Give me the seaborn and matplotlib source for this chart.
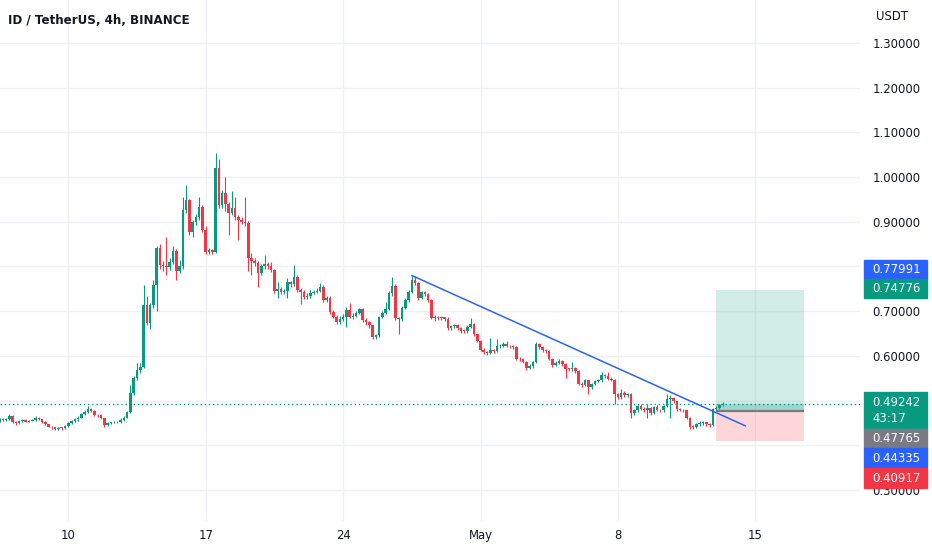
import pandas as pd
import matplotlib
matplotlib.use("Agg")
import matplotlib.pyplot as plt
import matplotlib.dates as mdates
from matplotlib.patches import Rectangle
import seaborn as sns

# 4h candles, ID / USDT
start_time = "2023-04-06 12:00"
first_open = 0.455
closes = [
    0.458, 0.456, 0.459, 0.466, 0.452, 0.449, 0.455, 0.456, 0.453, 0.455,
    0.456, 0.462, 0.458, 0.452, 0.447, 0.442, 0.440, 0.437, 0.439, 0.438,
    0.443, 0.449, 0.455, 0.458, 0.462, 0.470, 0.475, 0.481, 0.477, 0.468,
    0.467, 0.460, 0.446, 0.450, 0.451, 0.452, 0.451, 0.456, 0.462, 0.474,
    0.517, 0.550, 0.568, 0.575, 0.714, 0.674, 0.714, 0.759, 0.841, 0.803,
    0.800, 0.798, 0.810, 0.835, 0.790, 0.800, 0.927, 0.949, 0.877, 0.900,
    0.910, 0.933, 0.882, 0.832, 0.836, 0.833, 1.020, 0.937, 0.965, 0.940,
    0.920, 0.930, 0.910, 0.905, 0.900, 0.898, 0.819, 0.813, 0.808, 0.785,
    0.800, 0.805, 0.800, 0.792, 0.745, 0.750, 0.742, 0.745, 0.765, 0.760,
    0.777, 0.748, 0.744, 0.732, 0.735, 0.741, 0.744, 0.746, 0.755, 0.725,
    0.730, 0.698, 0.688, 0.675, 0.683, 0.688, 0.703, 0.687, 0.690, 0.697,
    0.705, 0.680, 0.675, 0.668, 0.642, 0.646, 0.687, 0.697, 0.705, 0.740,
    0.757, 0.685, 0.682, 0.708, 0.725, 0.743, 0.770, 0.763, 0.730, 0.742,
    0.738, 0.725, 0.685, 0.688, 0.684, 0.686, 0.683, 0.662, 0.667, 0.669,
    0.662, 0.656, 0.655, 0.665, 0.672, 0.648, 0.634, 0.614, 0.608, 0.607,
    0.613, 0.610, 0.621, 0.622, 0.626, 0.623, 0.621, 0.620, 0.594, 0.592,
    0.587, 0.574, 0.577, 0.586, 0.626, 0.620, 0.613, 0.611, 0.594, 0.580,
    0.585, 0.588, 0.581, 0.571, 0.570, 0.573, 0.566, 0.538, 0.535, 0.545,
    0.530, 0.537, 0.544, 0.545, 0.557, 0.554, 0.549, 0.547, 0.515, 0.507,
    0.518, 0.512, 0.514, 0.472, 0.478, 0.487, 0.482, 0.479, 0.483, 0.472,
    0.485, 0.479, 0.478, 0.487, 0.503, 0.505, 0.498, 0.481, 0.479, 0.478,
    0.462, 0.442, 0.441, 0.447, 0.449, 0.451, 0.447, 0.446, 0.481, 0.484,
    0.490, 0.49242,
]
highs = [
    0.461, 0.460, 0.462, 0.469, 0.467, 0.454, 0.457, 0.458, 0.458, 0.457,
    0.459, 0.465, 0.463, 0.459, 0.454, 0.448, 0.444, 0.442, 0.442, 0.441,
    0.445, 0.451, 0.457, 0.462, 0.466, 0.472, 0.479, 0.488, 0.483, 0.478,
    0.471, 0.469, 0.461, 0.452, 0.453, 0.455, 0.454, 0.460, 0.465, 0.477,
    0.535, 0.556, 0.584, 0.584, 0.759, 0.735, 0.718, 0.770, 0.845, 0.850,
    0.812, 0.865, 0.818, 0.845, 0.840, 0.815, 0.955, 0.982, 0.952, 0.905,
    0.918, 0.955, 0.938, 0.890, 0.842, 0.840, 1.054, 1.040, 0.972, 1.000,
    0.945, 0.970, 0.955, 0.915, 0.910, 0.955, 0.902, 0.830, 0.818, 0.812,
    0.805, 0.825, 0.810, 0.810, 0.795, 0.765, 0.754, 0.750, 0.775, 0.768,
    0.803, 0.780, 0.752, 0.748, 0.740, 0.748, 0.748, 0.752, 0.762, 0.758,
    0.735, 0.733, 0.702, 0.692, 0.690, 0.693, 0.710, 0.718, 0.695, 0.700,
    0.708, 0.707, 0.684, 0.678, 0.670, 0.650, 0.690, 0.700, 0.720, 0.745,
    0.776, 0.760, 0.688, 0.712, 0.730, 0.748, 0.780, 0.778, 0.766, 0.746,
    0.745, 0.741, 0.728, 0.692, 0.690, 0.689, 0.688, 0.686, 0.670, 0.672,
    0.671, 0.664, 0.660, 0.668, 0.685, 0.674, 0.650, 0.636, 0.617, 0.611,
    0.640, 0.615, 0.637, 0.626, 0.630, 0.634, 0.625, 0.624, 0.622, 0.597,
    0.595, 0.589, 0.581, 0.589, 0.632, 0.629, 0.623, 0.616, 0.613, 0.596,
    0.588, 0.592, 0.590, 0.583, 0.574, 0.587, 0.575, 0.568, 0.542, 0.548,
    0.547, 0.540, 0.547, 0.549, 0.563, 0.560, 0.564, 0.552, 0.549, 0.518,
    0.526, 0.521, 0.518, 0.516, 0.481, 0.490, 0.492, 0.485, 0.492, 0.485,
    0.488, 0.490, 0.482, 0.490, 0.515, 0.513, 0.508, 0.500, 0.484, 0.482,
    0.480, 0.464, 0.446, 0.450, 0.455, 0.454, 0.453, 0.450, 0.484, 0.488,
    0.493, 0.496,
]
lows = [
    0.453, 0.454, 0.455, 0.457, 0.449, 0.446, 0.448, 0.453, 0.451, 0.452,
    0.454, 0.455, 0.456, 0.450, 0.445, 0.440, 0.436, 0.434, 0.435, 0.435,
    0.437, 0.441, 0.447, 0.452, 0.455, 0.460, 0.468, 0.473, 0.474, 0.466,
    0.464, 0.458, 0.442, 0.444, 0.448, 0.449, 0.449, 0.450, 0.454, 0.460,
    0.472, 0.512, 0.545, 0.562, 0.572, 0.668, 0.660, 0.708, 0.700, 0.795,
    0.790, 0.780, 0.793, 0.805, 0.770, 0.785, 0.795, 0.920, 0.870, 0.865,
    0.892, 0.905, 0.878, 0.828, 0.828, 0.828, 0.830, 0.930, 0.930, 0.925,
    0.870, 0.915, 0.905, 0.860, 0.895, 0.890, 0.790, 0.780, 0.800, 0.755,
    0.780, 0.795, 0.795, 0.788, 0.740, 0.730, 0.738, 0.738, 0.730, 0.755,
    0.756, 0.744, 0.715, 0.728, 0.728, 0.730, 0.738, 0.740, 0.742, 0.720,
    0.720, 0.694, 0.685, 0.672, 0.672, 0.678, 0.665, 0.684, 0.683, 0.686,
    0.694, 0.676, 0.670, 0.662, 0.638, 0.638, 0.643, 0.684, 0.694, 0.702,
    0.735, 0.680, 0.649, 0.679, 0.705, 0.720, 0.740, 0.758, 0.726, 0.727,
    0.733, 0.720, 0.682, 0.678, 0.680, 0.681, 0.679, 0.658, 0.659, 0.663,
    0.658, 0.652, 0.651, 0.652, 0.662, 0.644, 0.630, 0.610, 0.604, 0.603,
    0.605, 0.606, 0.608, 0.617, 0.619, 0.620, 0.618, 0.616, 0.590, 0.588,
    0.583, 0.568, 0.570, 0.574, 0.584, 0.616, 0.609, 0.607, 0.590, 0.576,
    0.577, 0.582, 0.577, 0.550, 0.566, 0.567, 0.562, 0.534, 0.530, 0.532,
    0.515, 0.527, 0.534, 0.541, 0.542, 0.551, 0.546, 0.543, 0.492, 0.503,
    0.504, 0.509, 0.508, 0.462, 0.468, 0.475, 0.479, 0.475, 0.460, 0.468,
    0.470, 0.476, 0.474, 0.475, 0.485, 0.461, 0.494, 0.477, 0.476, 0.474,
    0.458, 0.437, 0.437, 0.439, 0.444, 0.446, 0.444, 0.442, 0.444, 0.478,
    0.481, 0.487,
]

# drawings on the chart
trend_start = ("2023-04-27 12:00", 0.77991)
trend_end = ("2023-05-14 12:00", 0.44335)
box_start, box_end = "2023-05-13 00:00", "2023-05-17 12:00"
target_price = 0.74776
entry_price = 0.47765
stop_price = 0.40917
last_price = 0.49242
countdown = "43:17"

price_ticks = [0.3, 0.4, 0.5, 0.6, 0.7, 0.8, 0.9, 1.0, 1.1, 1.2, 1.3]
hidden_ticks = [0.4, 0.5, 0.8]  # covered by the price tags
date_ticks = ["2023-04-10", "2023-04-17", "2023-04-24", "2023-05-01", "2023-05-08", "2023-05-15"]
date_labels = ["10", "17", "24", "May", "8", "15"]

GREEN, RED, BLUE, GREY = "#089981", "#F23645", "#2962FF", "#787B86"
TXT = "#131722"

df = pd.DataFrame({
    "time": pd.date_range(start_time, periods=len(closes), freq="4h"),
    "close": closes, "high": highs, "low": lows,
})
df["open"] = [first_open] + closes[:-1]
df["up"] = df["close"] >= df["open"]
df["x"] = mdates.date2num(df["time"])

sns.set_theme(style="white", rc={"axes.edgecolor": "white"})
plt.rcParams["font.family"] = ["DejaVu Sans"]

W, H = 932, 550
fig = plt.figure(figsize=(W / 100, H / 100), dpi=100)
ax = fig.add_axes([0, 29 / H, 860 / W, 521 / H])

for x in mdates.date2num(pd.to_datetime(date_ticks)):
    ax.axvline(x, color="#EEF0F5", lw=1, zorder=0)
for p in price_ticks:
    ax.axhline(p, color="#EEF0F5", lw=1, zorder=0)

colors = [GREEN if u else RED for u in df["up"]]
cw = 4 / 24 * 0.78
ax.vlines(df["x"], df["low"], df["high"], colors=colors, lw=0.8, zorder=2)
body = (df["close"] - df["open"]).abs().clip(lower=0.0018)
ax.bar(df["x"], body, bottom=df[["open", "close"]].min(axis=1), width=cw,
       color=colors, linewidth=0, zorder=3)

# long position tool
bx = mdates.date2num(pd.to_datetime([box_start, box_end]))
ax.fill_between(bx, entry_price, target_price, color=GREEN, alpha=0.18, lw=0, zorder=1)
ax.fill_between(bx, stop_price, entry_price, color=RED, alpha=0.2, lw=0, zorder=1)
ax.fill_between(bx, entry_price, last_price, color=GREEN, alpha=0.25, lw=0, zorder=1)
ax.hlines(entry_price, bx[0], bx[1], color=GREY, lw=1.6, zorder=4)

tx = mdates.date2num(pd.to_datetime([trend_start[0], trend_end[0]]))
ax.plot(tx, [trend_start[1], trend_end[1]], color=BLUE, lw=1.1, zorder=5)

ax.axhline(last_price, color=GREEN, lw=1, ls=(0, (1, 2)), zorder=4)

ax.set_xlim(mdates.date2num(pd.Timestamp("2023-04-06 12:30")),
            mdates.date2num(pd.Timestamp("2023-05-20 08:00")))
ax.set_ylim(0.2306, 1.3962)
ax.yaxis.tick_right()
ax.set_yticks(price_ticks)
ax.set_yticklabels(["" if p in hidden_ticks else f"{p:.5f}" for p in price_ticks])
ax.set_xticks(mdates.date2num(pd.to_datetime(date_ticks)))
ax.set_xticklabels(date_labels)
ax.tick_params(axis="y", length=0, pad=9, labelsize=8.4, labelcolor=TXT)
ax.tick_params(axis="x", length=0, pad=6, labelsize=8.4, labelcolor=TXT)
for lab in ax.get_yticklabels():
    lab.set_horizontalalignment("left")
for s in ax.spines.values():
    s.set_visible(False)
ax.grid(False)

fig.text(8 / W, 1 - 20 / H, "ID / TetherUS, 4h, BINANCE", fontsize=8.6,
         fontweight="semibold", color=TXT, va="center")
fig.text(876 / W, 1 - 16 / H, "USDT", fontsize=8.4, color=TXT, va="center")

# price scale labels (pixel boxes on the right)
tags = [
    ("0.77991", BLUE, 260, 279),
    ("0.74776", GREEN, 279, 298),
    (f"{last_price:.5f}\n{countdown}", GREEN, 392, 429),
    (f"{entry_price:.5f}", GREY, 429, 448),
    ("0.44335", BLUE, 448, 468),
    (f"{stop_price:.5f}", RED, 468, 488),
]
for text, col, y0, y1 in tags:
    fig.add_artist(Rectangle((864 / W, 1 - y1 / H), 63 / W, (y1 - y0) / H,
                             transform=fig.transFigure, color=col, zorder=10))
    fig.text(872 / W, 1 - (y0 + y1) / 2 / H, text, color="white", fontsize=8.4,
             va="center", ha="left", zorder=11, linespacing=1.25)

fig.savefig("out.png", dpi=100)
